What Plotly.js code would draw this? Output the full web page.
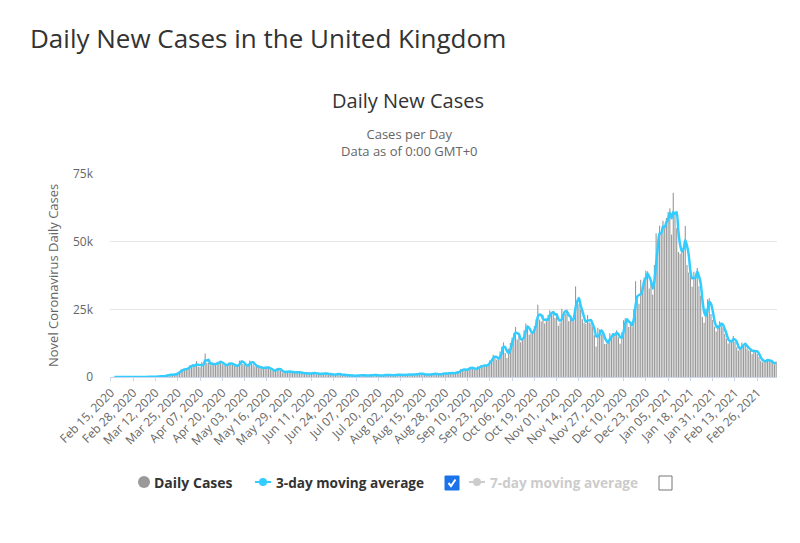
<!DOCTYPE html>
<html>
<head>
<meta charset="utf-8">
<script src="https://cdn.plot.ly/plotly-3.0.1.min.js"></script>
<style>
  html, body { margin: 0; padding: 0; background: #ffffff; }
  #chart { width: 800px; height: 543px; }
</style>
</head>
<body>
<div id="chart"></div>
<script>
// Daily new COVID-19 cases reported in the United Kingdom, one array per month.
const feb2020 = [0, 0, 0, 0, 0, 0, 0, 0, 0, 4, 0, 0, 2, 5, 3];
const mar2020 = [13, 4, 11, 34, 29, 48, 45, 69, 43, 62, 77, 130, 208, 342, 251, 152, 407, 676, 643, 714,
  1035, 665, 967, 1427, 1452, 2129, 2885, 2700, 2900, 3100, 3300];
const apr2020 = [4324, 4244, 4450, 3735, 5903, 3802, 3634, 5491, 4344, 8681, 5233, 5288, 4342, 5252, 4603,
  4617, 5599, 5525, 5850, 4676, 4301, 4451, 4583, 5386, 4913, 4463, 4309, 3996, 4076, 6032];
const may2020 = [6201, 4806, 4339, 3985, 4406, 6111, 5614, 4649, 3896, 3923, 3877, 3403, 3242, 3446, 3560,
  3450, 3534, 2684, 2442, 2272, 2615, 3287, 2959, 2405, 1625, 2004, 2013, 1887, 2095, 1936, 1570];
const jun2020 = [1653, 1871, 1805, 1650, 1557, 1326, 1205, 1741, 1003, 1266, 1541, 1425, 1514, 1056, 1279,
  1115, 1218, 1346, 1295, 1221, 958, 1221, 874, 653, 1118, 1380, 890, 901, 815, 689];
const jul2020 = [829, 576, 544, 624, 516, 352, 581, 630, 512, 820, 650, 598, 530, 538, 726, 642, 687, 827,
  580, 560, 445, 560, 769, 767, 768, 747, 685, 581, 763, 846, 880];
const aug2020 = [744, 938, 670, 761, 892, 950, 871, 758, 1062, 816, 1148, 1009, 1441, 1012, 1077, 1040, 713,
  1089, 812, 1182, 1033, 1288, 1041, 853, 1184, 1048, 1522, 1276, 1108, 1715, 1406];
const sep2020 = [1295, 1508, 1735, 1813, 1788, 2988, 2948, 2460, 2659, 2919, 3539, 3497, 3330, 2621, 3105,
  3991, 3395, 4322, 4422, 3899, 4368, 4926, 6178, 6634, 8200, 7600, 6400, 6300, 9400, 11200];
const oct2020 = [12800, 8900, 7000, 10500, 12594, 14542, 16200, 18500, 13864, 15166, 12872, 13972, 17234,
  19724, 18980, 15650, 16171, 16982, 18804, 21331, 26688, 21242, 20530, 23012, 19790, 20890, 22885, 24701,
  23065, 24405, 21915];
const nov2020 = [23254, 18950, 20018, 25177, 24141, 23287, 24957, 20572, 21350, 20412, 22950, 33470, 27301,
  26860, 24962, 21363, 20051, 19609, 22915, 20252, 19875, 18662, 15450, 11299, 18213, 17555, 16022, 15871,
  12155, 12330];
const dec2020 = [13430, 16170, 14879, 16298, 15539, 17272, 14718, 12282, 16578, 20964, 21672, 21502, 18447,
  20263, 18450, 25161, 35383, 28507, 27052, 35928, 33364, 36804, 39237, 39036, 32725, 34693, 30501, 41385,
  53135, 50023, 55892];
const jan2021 = [53285, 57725, 54990, 58784, 60916, 62322, 52618, 68053, 59937, 54940, 46169, 45533, 47525,
  48682, 55761, 41346, 38598, 37535, 33355, 38905, 37892, 40261, 33552, 30004, 22195, 20089, 25308, 28680,
  29079, 23275, 21088];
const feb2021 = [18607, 16840, 19202, 20634, 19114, 18262, 15845, 14104, 12364, 13494, 13308, 15144, 13028,
  10972, 9765, 10625, 12718, 12057, 12027, 10406, 9834, 10641, 8489, 9938, 9985, 8523, 7434, 6035];
const mar2021 = [5455, 6391, 5766, 6573, 6040, 5534, 5177, 4712, 5766];

const dailyCases = [].concat(feb2020, mar2020, apr2020, may2020, jun2020, jul2020, aug2020, sep2020,
  oct2020, nov2020, dec2020, jan2021, feb2021, mar2021);

// First reporting day of the series
const firstDay = '2020-02-15';

// Labels shown along the date axis (every 13th day)
const tickLabels = ['Feb 15, 2020', 'Feb 28, 2020', 'Mar 12, 2020', 'Mar 25, 2020', 'Apr 07, 2020',
  'Apr 20, 2020', 'May 03, 2020', 'May 16, 2020', 'May 29, 2020', 'Jun 11, 2020', 'Jun 24, 2020',
  'Jul 07, 2020', 'Jul 20, 2020', 'Aug 02, 2020', 'Aug 15, 2020', 'Aug 28, 2020', 'Sep 10, 2020',
  'Sep 23, 2020', 'Oct 06, 2020', 'Oct 19, 2020', 'Nov 01, 2020', 'Nov 14, 2020', 'Nov 27, 2020',
  'Dec 10, 2020', 'Dec 23, 2020', 'Jan 05, 2021', 'Jan 18, 2021', 'Jan 31, 2021', 'Feb 13, 2021',
  'Feb 26, 2021'];

const yTickValues = [0, 25000, 50000, 75000];
const yTickLabels = ['0', '25k', '50k', '75k'];

// One category per calendar day, formatted like the axis labels
const MONTHS = ['Jan', 'Feb', 'Mar', 'Apr', 'May', 'Jun', 'Jul', 'Aug', 'Sep', 'Oct', 'Nov', 'Dec'];
const start = new Date(firstDay + 'T00:00:00Z');
const dates = dailyCases.map((_, i) => {
  const d = new Date(start.getTime() + i * 86400000);
  return MONTHS[d.getUTCMonth()] + ' ' + String(d.getUTCDate()).padStart(2, '0') + ', ' + d.getUTCFullYear();
});

// Trailing 3-day moving average of the daily counts
const movingAvg3 = dailyCases.map((v, i) =>
  i < 2 ? null : Math.round((dailyCases[i] + dailyCases[i - 1] + dailyCases[i - 2]) / 3));

const W = 800, H = 543;
const M = { l: 110, r: 23, t: 174, b: 166 };
const PW = W - M.l - M.r, PH = H - M.t - M.b;
// page pixel -> paper fraction helpers for the decorations
const px = x => (x - M.l) / PW;
const py = y => (H - M.b - y) / PH;

const FONT = '"Open Sans", "DejaVu Sans", sans-serif';
const CYAN = '#33ccff';

const traces = [
  {
    type: 'bar', x: dates, y: dailyCases, name: 'Daily Cases',
    marker: { color: '#999999', line: { width: 0 } },
    hoverinfo: 'x+y'
  },
  {
    type: 'scatter', mode: 'lines', x: dates, y: movingAvg3, name: '3-day moving average',
    line: { color: CYAN, width: 2.5, shape: 'spline', smoothing: 0.6 },
    connectgaps: false, hoverinfo: 'x+y'
  }
];

const legendY = 482;
const shapes = [
  // Daily Cases swatch
  { type: 'circle', xref: 'paper', yref: 'paper', x0: px(138), x1: px(150), y0: py(legendY + 6), y1: py(legendY - 6),
    fillcolor: '#999999', line: { width: 0 } },
  // 3-day average swatch
  { type: 'line', xref: 'paper', yref: 'paper', x0: px(255), x1: px(271), y0: py(legendY), y1: py(legendY),
    line: { color: CYAN, width: 2 } },
  { type: 'circle', xref: 'paper', yref: 'paper', x0: px(259), x1: px(267), y0: py(legendY + 4), y1: py(legendY - 4),
    fillcolor: CYAN, line: { width: 0 } },
  // checked box
  { type: 'rect', xref: 'paper', yref: 'paper', x0: px(445), x1: px(459), y0: py(legendY + 8), y1: py(legendY - 6),
    fillcolor: '#1a73e8', line: { color: '#1a73e8', width: 1 } },
  { type: 'path', xref: 'paper', yref: 'paper',
    path: 'M ' + px(448.5) + ' ' + py(legendY + 1) + ' L ' + px(451) + ' ' + py(legendY + 4) + ' L ' + px(455.5) + ' ' + py(legendY - 2.5),
    line: { color: '#ffffff', width: 2 } },
  // 7-day average swatch (disabled series)
  { type: 'line', xref: 'paper', yref: 'paper', x0: px(469), x1: px(485), y0: py(legendY), y1: py(legendY),
    line: { color: '#cccccc', width: 2 } },
  { type: 'circle', xref: 'paper', yref: 'paper', x0: px(473), x1: px(481), y0: py(legendY + 4), y1: py(legendY - 4),
    fillcolor: '#cccccc', line: { width: 0 } },
  // unchecked box
  { type: 'rect', xref: 'paper', yref: 'paper', x0: px(659), x1: px(672), y0: py(legendY + 8), y1: py(legendY - 6),
    fillcolor: '#ffffff', line: { color: '#767676', width: 1 } }
];

const annotations = [
  { text: 'Daily New Cases in the United Kingdom', xref: 'paper', yref: 'paper', x: px(28), y: py(38),
    xanchor: 'left', yanchor: 'middle', showarrow: false, font: { family: FONT, size: 26, color: '#333333' } },
  { text: 'Cases per Day<br>Data as of 0:00 GMT+0', xref: 'paper', yref: 'paper', x: px(409), y: py(142),
    xanchor: 'center', yanchor: 'middle', align: 'center', showarrow: false,
    font: { family: FONT, size: 13, color: '#666666' } },
  { text: 'Novel Coronavirus Daily Cases', xref: 'paper', yref: 'paper', x: px(53), y: py(276), textangle: -90,
    xanchor: 'center', yanchor: 'middle', showarrow: false, font: { family: FONT, size: 13, color: '#666666' } },
  { text: '<b>Daily Cases</b>', xref: 'paper', yref: 'paper', x: px(152), y: py(legendY),
    xanchor: 'left', yanchor: 'middle', showarrow: false, font: { family: FONT, size: 14, color: '#333333' } },
  { text: '<b>3-day moving average</b>', xref: 'paper', yref: 'paper', x: px(274), y: py(legendY),
    xanchor: 'left', yanchor: 'middle', showarrow: false, font: { family: FONT, size: 13.6, color: '#333333' } },
  { text: '<b>7-day moving average</b>', xref: 'paper', yref: 'paper', x: px(488), y: py(legendY),
    xanchor: 'left', yanchor: 'middle', showarrow: false, font: { family: FONT, size: 13.6, color: '#cccccc' } }
];

const layout = {
  width: W, height: H,
  margin: M,
  paper_bgcolor: '#ffffff', plot_bgcolor: '#ffffff',
  font: { family: FONT, color: '#666666' },
  title: { text: 'Daily New Cases', xref: 'container', yref: 'container', x: 408 / W, y: 1 - 101 / H,
    xanchor: 'center', yanchor: 'middle', font: { family: FONT, size: 20, color: '#333333' } },
  showlegend: false,
  bargap: 0.35,
  xaxis: {
    type: 'category', range: [-0.5, dates.length - 0.5], fixedrange: true,
    tickmode: 'array', tickvals: tickLabels, ticktext: tickLabels, tickangle: -45,
    ticks: 'outside', ticklen: 3, tickcolor: '#ccd6eb',
    tickfont: { family: FONT, size: 12, color: '#666666' },
    showline: true, linecolor: '#ccd6eb', linewidth: 1,
    showgrid: false, zeroline: false
  },
  yaxis: {
    range: [0, 75000], fixedrange: true,
    tickmode: 'array', tickvals: yTickValues, ticktext: yTickLabels,
    tickfont: { family: FONT, size: 12, color: '#666666' },
    showgrid: true, gridcolor: '#e6e6e6', gridwidth: 1,
    zeroline: false, showline: false, ticks: '', ticklabelstandoff: 16
  },
  shapes: shapes,
  annotations: annotations
};

Plotly.newPlot('chart', traces, layout, { displayModeBar: false, staticPlot: true });
</script>
</body>
</html>
